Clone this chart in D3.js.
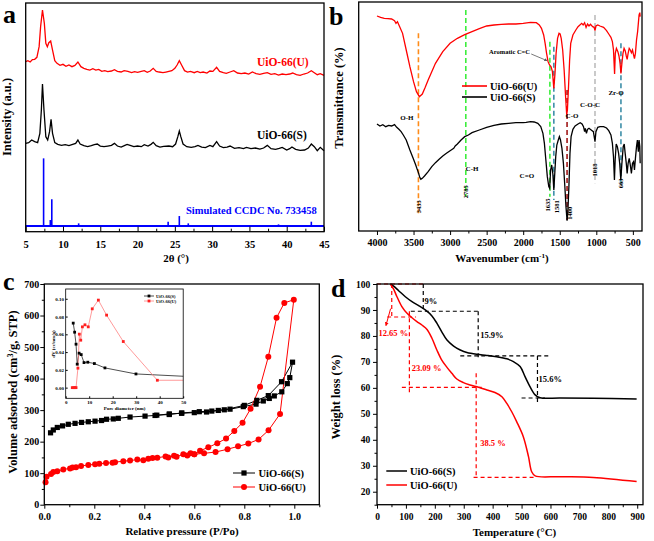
<!DOCTYPE html>
<html><head><meta charset="utf-8">
<script src="https://cdn.jsdelivr.net/npm/d3@7"></script>
<style>body{margin:0;background:#fff}svg{display:block}</style>
</head><body><svg id="fig" width="654" height="541"></svg>
<script>
// ---------------- DATA ----------------
// (a) XRD, 2theta (deg) and intensity (a.u., stacked)
const xrdThetaU = [5.0,5.3,5.6,5.9,6.2,6.5,6.8,7.0,7.25,7.5,7.7,7.9,8.1,8.35,8.6,8.9,9.2,9.6,10.0,10.4,10.8,11.2,11.6,12.0,12.4,12.8,13.2,13.6,14.0,14.4,14.8,15.2,15.6,16.0,16.5,16.9,17.3,17.8,18.2,18.7,19.2,19.6,20.0,20.5,20.9,21.3,21.7,22.1,22.5,22.9,23.4,23.8,24.2,24.6,25.0,25.3,25.6,25.9,26.3,26.7,27.1,27.6,28.0,28.4,28.8,29.3,29.7,30.1,30.6,31.0,31.5,31.9,32.4,32.9,33.4,33.9,34.4,34.9,35.4,35.9,36.4,36.9,37.4,37.9,38.4,38.9,39.4,39.9,40.4,40.8,41.3,41.8,42.3,42.8,43.3,43.7,44.1,44.5,45.0];
const xrdIntU = [515,518,514,521,522,528,560,620,670,630,570,560,572,577,550,518,510,504,507,501,505,500,504,514,500,495,492,490,494,490,492,486,488,485,487,491,486,484,488,486,482,485,483,486,488,483,487,495,486,484,482,484,486,488,495,505,518,505,488,484,486,482,486,482,484,481,487,486,498,486,482,480,484,488,481,479,481,478,484,479,477,480,482,477,479,475,478,476,478,481,476,474,478,481,488,482,476,479,474];
const xrdThetaS = [5.0,5.4,5.8,6.2,6.6,6.9,7.1,7.25,7.45,7.7,7.95,8.2,8.4,8.6,8.9,9.3,9.8,10.3,10.8,11.3,11.7,12.0,12.3,12.8,13.3,13.8,14.2,14.6,15.0,15.5,16.0,16.5,16.9,17.3,17.8,18.3,18.6,19.0,19.5,20.0,20.5,20.9,21.4,21.8,22.1,22.5,23.0,23.5,24.2,24.7,25.1,25.4,25.6,25.8,26.1,26.6,27.2,27.7,28.1,28.6,29.1,29.7,30.1,30.6,31.0,31.5,32.0,32.4,33.0,33.6,34.2,34.6,35.2,35.8,36.4,36.9,37.4,37.9,38.5,39.0,39.4,40.0,40.4,40.7,41.2,41.8,42.4,42.9,43.3,43.7,44.1,44.5,45.0];
const xrdIntS = [270,272,280,275,272,300,370,448,370,290,280,305,342,300,272,267,264,266,263,267,270,280,268,263,260,263,266,268,262,260,262,264,270,262,259,264,267,264,260,262,260,266,262,267,273,263,259,261,262,260,268,290,307,290,268,260,258,260,264,259,257,264,260,275,262,257,259,262,255,257,254,258,254,256,253,256,264,254,252,255,258,250,254,259,252,249,250,256,268,260,248,258,248];
const simBase = 22;
const simTheta = [7.4,8.3,8.5,12.1,24.1,25.6,26.8,38.9,43.3];
const simInt   = [225,40,102,30,35,52,30,27,35];
const xrdTicks = [5,10,15,20,25,30,35,40,45];

// (b) FTIR: [wavenumber, transmittance (a.u.)]
const ftirU = [[4000,652],[3950,648],[3900,645],[3850,644],[3800,643],[3760,638],[3740,630],[3720,635],[3700,625],[3650,600],[3600,550],[3550,500],[3500,455],[3460,425],[3420,410],[3380,418],[3340,438],[3300,460],[3200,510],[3100,545],[3000,570],[2900,585],[2800,596],[2700,605],[2600,614],[2500,622],[2400,625],[2300,627],[2200,628],[2100,628],[2000,630],[1900,633],[1820,632],[1780,625],[1750,615],[1720,595],[1700,570],[1680,540],[1660,515],[1640,505],[1620,500],[1600,485],[1581,435],[1565,480],[1550,540],[1530,585],[1510,600],[1495,598],[1480,585],[1460,550],[1440,490],[1420,410],[1405,355],[1395,370],[1380,440],[1365,520],[1350,570],[1320,595],[1280,610],[1250,620],[1200,630],[1180,625],[1160,632],[1140,618],[1120,628],[1100,622],[1080,627],[1050,620],[1030,618],[1018,608],[1005,622],[980,625],[950,622],[900,618],[860,608],[830,598],[800,588],[780,575],[765,550],[750,478],[740,540],[725,555],[705,545],[690,532],[675,510],[663,480],[650,510],[635,540],[620,555],[605,548],[590,532],[578,522],[565,540],[550,555],[535,550],[520,542],[505,550],[490,535],[478,524],[465,540],[450,580],[435,605],[425,630],[415,655],[405,662],[400,650]];
const ftirS = [[4000,328],[3960,322],[3920,326],[3880,320],[3840,324],[3800,322],[3760,326],[3730,318],[3700,312],[3670,305],[3640,295],[3600,280],[3550,250],[3500,222],[3470,205],[3450,192],[3430,180],[3415,168],[3400,162],[3380,165],[3350,172],[3300,185],[3250,200],[3200,212],[3150,222],[3100,232],[3050,240],[3000,248],[2950,255],[2930,262],[2900,268],[2850,280],[2800,290],[2750,295],[2700,302],[2600,310],[2500,318],[2400,324],[2300,328],[2200,330],[2100,332],[2000,332],[1960,333],[1900,335],[1850,334],[1800,330],[1760,320],[1730,300],[1710,270],[1690,220],[1670,170],[1650,140],[1638,135],[1625,190],[1610,205],[1595,180],[1581,130],[1568,180],[1555,230],[1540,265],[1520,280],[1505,290],[1490,280],[1470,255],[1450,210],[1430,140],[1415,80],[1400,38],[1390,60],[1375,140],[1360,240],[1345,290],[1320,312],[1290,322],[1250,328],[1220,332],[1195,328],[1175,320],[1160,305],[1150,315],[1135,300],[1120,312],[1100,315],[1070,310],[1040,305],[1018,275],[1005,305],[980,318],[950,320],[900,320],[860,316],[830,308],[800,295],[780,270],[765,230],[752,160],[742,220],[728,268],[712,260],[695,240],[680,210],[665,160],[650,210],[632,260],[618,268],[605,240],[590,210],[578,180],[565,210],[550,225],[535,205],[520,180],[505,210],[490,215],[478,190],[465,225],[450,260],[438,280],[425,245],[415,280],[405,260],[400,210]];
const ftirBands = [3433,2785,1635,1581,1400,1018,663];
const ftirBandLabels = ["3433","2785","1635","1581","1400","1018","663"];
const ftirTicks = [4000,3500,3000,2500,2000,1500,1000,500];

// (c) N2 isotherms: [P/Po, volume cm3/g STP]
const isoSads = [[0.025,228],[0.036,237],[0.052,245],[0.073,250],[0.096,255],[0.123,258],[0.149,261],[0.176,263],[0.203,265],[0.229,267],[0.249,271],[0.276,272],[0.296,274],[0.343,278],[0.403,281],[0.443,283],[0.5,288],[0.549,290],[0.6,292],[0.649,294],[0.696,299],[0.743,303],[0.796,311],[0.847,319],[0.876,329],[0.90,337],[0.92,345],[0.95,358],[0.972,384],[0.982,403],[0.993,452]];
const isoSdes = [[0.993,452],[0.949,390],[0.896,346],[0.85,331],[0.80,315],[0.72,301],[0.67,297],[0.62,295],[0.55,291],[0.5,286],[0.45,284]];
const isoUads = [[0.005,71],[0.009,89],[0.027,97],[0.036,104],[0.052,106],[0.076,112],[0.103,115],[0.113,118],[0.127,119],[0.147,123],[0.176,126],[0.203,128],[0.22,130],[0.247,132],[0.273,133],[0.283,135],[0.316,138],[0.343,140],[0.372,143],[0.396,141],[0.416,146],[0.433,148],[0.452,149],[0.485,153],[0.496,150],[0.519,155],[0.529,152],[0.556,160],[0.572,156],[0.585,163],[0.6,160],[0.639,163],[0.685,167],[0.733,176],[0.775,185],[0.816,194],[0.857,207],[0.897,236],[0.943,288],[0.998,650]];
const isoUdes = [[0.998,650],[0.96,640],[0.929,593],[0.896,469],[0.863,374],[0.825,304],[0.793,260],[0.76,234],[0.727,210],[0.692,195],[0.656,182],[0.623,171],[0.6,160]];
// inset pore size distribution: [pore diameter nm, dV cc/nm/g]
const psdS = [[3.2,0.0726],[3.8,0.0624],[4.4,0.0489],[4.9,0.0264],[5.7,0.0388],[6.6,0.0372],[7.8,0.0282],[9.4,0.0286],[12.2,0.0271],[16.7,0.0222],[29.9,0.0154],[50,0.0128]];
const psdU = [[2.8,0],[3.4,0],[3.9,0],[4.4,0],[5.2,0.0219],[5.8,0.0602],[6.4,0.0534],[7.1,0.0684],[8.2,0.0707],[9.6,0.0684],[11.3,0.0887],[13.9,0.0985],[17.4,0.0816],[24.5,0.0519],[39.0,0.0083],[50,0.0083]];

// (d) TGA: [temperature C, weight %]
const tgaS = [[46,100],[57.5,99.2],[75,97.4],[98,95.1],[121,93.2],[144,91.7],[167,90],[190,87.7],[207,84.9],[224,81.6],[242,78.4],[265,76.1],[288,74.6],[311,73.6],[345,72.9],[380,72.5],[414,72],[449,71.2],[472,70.1],[495,68.2],[512,64.3],[529,60.5],[547,57.3],[564,56.2],[633,56.1],[748,56],[898,55.7]];
const tgaU = [[46,100],[57.5,98],[69,95.1],[86,91.3],[104,88.7],[121,87],[138,85.5],[155,84.2],[173,82.5],[190,79.1],[207,74.6],[224,70.7],[242,67.9],[259,65.6],[276,63.4],[299,62],[322,61.1],[351,60.2],[380,59.2],[408,58.2],[432,56.6],[449,54],[466,50.8],[483,47],[506,41.2],[524,33.5],[535,27.7],[547,26.1],[633,25.8],[748,25.5],[898,23.9]];
const tgaGuidesU = [[[0,100],[165,100]],[[51,100],[51,87.2]],[[35,87.3],[135,87.3]],[[112,89.5],[112,57.5]],[[86,60.2],[362,60.2]],[[343,65.6],[343,25.5]],[[334,25.5],[552,25.5]]];
const tgaGuidesS = [[[160,100],[160,90]],[[117,89.5],[350,89.5]],[[350,89.5],[350,71.8]],[[288,72.3],[593,72.3]],[[555,72.3],[555,54]],[[500,56.1],[581,56.1]]];
const tgaLossLabelsS = [["9%",164,92.3],["15.9%",357,79.2],["15.6%",559,62.3]];
const tgaLossLabelsU = [["12.65 %",5,79.8],["23.09 %",120,66.5],["38.5 %",357,37.6]];

// ---------------- DRAW ----------------
const FAM = '"Liberation Serif","Times New Roman",Times,serif';
const svg = d3.select("#fig");
svg.append("rect").attr("width",654).attr("height",541).attr("fill","#fff");

function txt(g,x,y,s,o={}){
  const t=g.append("text").attr("x",x).attr("y",y)
    .attr("font-family",FAM).attr("font-weight","bold").attr("font-size",o.size||10)
    .attr("fill",o.fill||"#000").attr("text-anchor",o.anchor||"start");
  if(Array.isArray(s)){ s.forEach(p=>{const ts=t.append("tspan").text(p.t); if(p.sup){ts.attr("baseline-shift","super").attr("font-size",(o.size||10)*0.65);} }); }
  else t.text(s);
  if(o.rot) t.attr("transform",`rotate(${o.rot},${x},${y})`);
  return t;
}
function frame(g,xs,ys){
  const [x0,x1]=xs.range(), [y0,y1]=ys.range();
  g.append("rect").attr("x",Math.min(x0,x1)).attr("y",Math.min(y0,y1))
    .attr("width",Math.abs(x1-x0)).attr("height",Math.abs(y0-y1))
    .attr("fill","none").attr("stroke","#000").attr("stroke-width",1.3);
}
function styleAx(a,fs){
  a.select(".domain").remove();
  a.attr("font-family",FAM).attr("font-size",fs).attr("font-weight","bold");
  a.selectAll("line").attr("stroke","#000");
  a.selectAll("text").attr("fill","#000");
}
function axB(g,s,y,major,minor,size,msize,pad,fs,fmt){
  const a=g.append("g").attr("transform",`translate(0,${y})`)
    .call(d3.axisBottom(s).tickValues(major).tickSize(size).tickPadding(pad).tickFormat(fmt));
  styleAx(a,fs);
  if(minor){const m=g.append("g").attr("transform",`translate(0,${y})`)
    .call(d3.axisBottom(s).tickValues(minor).tickSize(msize).tickFormat(()=>""));styleAx(m,fs);}
}
function axL(g,s,x,major,minor,size,msize,pad,fs,fmt){
  const a=g.append("g").attr("transform",`translate(${x},0)`)
    .call(d3.axisLeft(s).tickValues(major).tickSize(size).tickPadding(pad).tickFormat(fmt));
  styleAx(a,fs);
  if(minor){const m=g.append("g").attr("transform",`translate(${x},0)`)
    .call(d3.axisLeft(s).tickValues(minor).tickSize(msize).tickFormat(()=>""));styleAx(m,fs);}
}
const fmtD=d3.format("d");

// ===== Panel a =====
{
  const g=svg.append("g");
  const x=d3.scaleLinear([5,45],[25.7,324]);
  const y=d3.scaleLinear([5,691],[231.7,3]);
  const line=d3.line().x(d=>x(d[0])).y(d=>y(d[1]));
  const U=xrdThetaU.map((t,i)=>[t,xrdIntU[i]]);
  const S=xrdThetaS.map((t,i)=>[t,xrdIntS[i]]);
  g.append("path").attr("d",line(U)).attr("fill","none").attr("stroke","#ff0000").attr("stroke-width",1.3);
  g.append("path").attr("d",line(S)).attr("fill","none").attr("stroke","#000").attr("stroke-width",1.3);
  g.append("line").attr("x1",x(5)).attr("x2",x(45)).attr("y1",y(simBase)).attr("y2",y(simBase)).attr("stroke","#0000ff").attr("stroke-width",2);
  g.selectAll(".stick").data(simTheta).join("line")
    .attr("x1",d=>x(d)).attr("x2",d=>x(d)).attr("y1",y(simBase)).attr("y2",(d,i)=>y(simInt[i]))
    .attr("stroke","#0000ff").attr("stroke-width",1.6);
  frame(g,x,y);
  axB(g,x,231.7,xrdTicks,d3.range(7.5,45,5),-5,-3,9,10.5,fmtD);
  txt(g,x(36),y(502),"UiO-66(U)",{size:11.5,fill:"#ff0000"});
  txt(g,x(36),y(283),"UiO-66(S)",{size:11.5});
  txt(g,x(26.5),y(58),"Simulated CCDC No. 733458",{size:10.5,fill:"#0000ff"});
  txt(g,176,262,"2θ (°)",{size:11,anchor:"middle"});
  txt(g,11,117,"Intensity (a.u.)",{size:12.5,anchor:"middle",rot:-90});
  txt(g,3,23,"a",{size:26});
}

// ===== Panel b =====
{
  const g=svg.append("g");
  const x=d3.scaleLinear([4250,375],[358.7,642]);
  const y=d3.scaleLinear([7,694],[231,2]);
  const line=d3.line().x(d=>x(d[0])).y(d=>y(d[1]));
  const bandTop=[600,670,575,560,430,655,570], bandBot=[60,110,110,100,40,150,140];
  const bandCol=["#ff8c1a","#3dee3d","#3dee3d","#3d8fa8","#a01818","#bdbdbd","#3d8fa8"];
  const lblT=[80,125,85,80,60,190,150], lblDx=[0,0,-2,3,3,0,0];
  ftirBands.forEach((w,i)=>{
    g.append("line").attr("x1",x(w)).attr("x2",x(w)).attr("y1",y(bandTop[i])).attr("y2",y(bandBot[i]))
      .attr("stroke",bandCol[i]).attr("stroke-width",1.6).attr("stroke-dasharray","5,3");
  });
  g.append("path").attr("d",line(ftirU)).attr("fill","none").attr("stroke","#ff0000").attr("stroke-width",1.3);
  g.append("path").attr("d",line(ftirS)).attr("fill","none").attr("stroke","#000").attr("stroke-width",1.3);
  ftirBands.forEach((w,i)=>{
    txt(g,x(w)+lblDx[i]+2.3,y(lblT[i]),ftirBandLabels[i],{size:6.5,anchor:"middle",rot:-90});
  });
  frame(g,x,y);
  axB(g,x,231,ftirTicks,d3.range(3750,400,-500),4,2.5,4,10,fmtD);
  const ann=[["O-H",3590,340],["C-H",2700,188],["C=O",1950,167],["C-O",1332,347],["C-O-C",1086,380],["Zr-O",730,416]];
  ann.forEach(a=>txt(g,x(a[1]),y(a[2]),a[0],{size:7,anchor:"middle"}));
  txt(g,x(1907),y(537),"Aromatic C=C",{size:6.5,anchor:"end"});
  g.append("defs").append("marker").attr("id","arr").attr("viewBox","0 0 6 6").attr("refX",5).attr("refY",3)
    .attr("markerWidth",4).attr("markerHeight",4).attr("orient","auto")
    .append("path").attr("d","M0,0L6,3L0,6Z").attr("fill","#555");
  g.append("line").attr("x1",x(1890)).attr("y1",y(538)).attr("x2",x(1675)).attr("y2",y(518))
    .attr("stroke","#555").attr("stroke-width",0.8).attr("marker-end","url(#arr)");
  // legend
  g.append("line").attr("x1",462).attr("x2",487).attr("y1",86).attr("y2",86).attr("stroke","#ff0000").attr("stroke-width",1.6);
  g.append("line").attr("x1",462).attr("x2",487).attr("y1",97).attr("y2",97).attr("stroke","#000").attr("stroke-width",1.6);
  txt(g,490,89.5,"UiO-66(U)",{size:10.5});
  txt(g,490,100.5,"UiO-66(S)",{size:10.5});
  txt(g,502,262,[{t:"Wavenumber (cm"},{t:"-1",sup:true},{t:")"}],{size:11,anchor:"middle"});
  txt(g,342.5,98,"Transmittance (%)",{size:12.5,anchor:"middle",rot:-90});
  txt(g,329,24.5,"b",{size:26});
}

// ===== Panel c =====
{
  const g=svg.append("g");
  const x=d3.scaleLinear([0,1.1],[44.3,319.3]);
  const y=d3.scaleLinear([0,700],[504.7,284]);
  const line=d3.line().x(d=>x(d[0])).y(d=>y(d[1]));
  [[isoSads,"#000"],[isoSdes,"#000"],[isoUads,"#ff0000"],[isoUdes,"#ff0000"]].forEach(([d,c])=>{
    g.append("path").attr("d",line(d)).attr("fill","none").attr("stroke",c).attr("stroke-width",1);
  });
  g.selectAll(".sq").data(isoSads.concat(isoSdes.slice(1))).join("rect")
    .attr("x",d=>x(d[0])-2.6).attr("y",d=>y(d[1])-2.6).attr("width",5.2).attr("height",5.2).attr("fill","#000");
  g.selectAll(".ci").data(isoUads.concat(isoUdes.slice(1))).join("circle")
    .attr("cx",d=>x(d[0])).attr("cy",d=>y(d[1])).attr("r",3).attr("fill","#ff0000");
  frame(g,x,y);
  axB(g,x,504.7,[0,0.2,0.4,0.6,0.8,1.0],[0.1,0.3,0.5,0.7,0.9,1.1],4,2.5,4.4,10,d3.format(".1f"));
  axL(g,y,44.3,d3.range(0,701,100),d3.range(50,700,100),4,2.5,1,10,fmtD);
  // legend
  g.append("line").attr("x1",233).attr("x2",255).attr("y1",473).attr("y2",473).attr("stroke","#000");
  g.append("rect").attr("x",241.4).attr("y",470.4).attr("width",5.2).attr("height",5.2).attr("fill","#000");
  g.append("line").attr("x1",233).attr("x2",255).attr("y1",487).attr("y2",487).attr("stroke","#ff0000");
  g.append("circle").attr("cx",244).attr("cy",487).attr("r",3).attr("fill","#ff0000");
  txt(g,258.5,476.5,"UiO-66(S)",{size:10.5});
  txt(g,258.5,490.5,"UiO-66(U)",{size:10.5});
  txt(g,182,535,"Relative pressure (P/Po)",{size:11,anchor:"middle"});
  txt(g,17,392,[{t:"Volume adsorbed (cm"},{t:"3",sup:true},{t:"/g, STP)"}],{size:12.5,anchor:"middle",rot:-90});
  txt(g,3,290,"c",{size:26});

  // inset
  const xi=d3.scaleLinear([0,50],[65.7,183.2]);
  const yi=d3.scaleLinear([-0.012,0.111],[398.3,289]);
  const li=d3.line().x(d=>xi(d[0])).y(d=>yi(d[1]));
  g.append("path").attr("d",li(psdS)).attr("fill","none").attr("stroke","#222").attr("stroke-width",0.8);
  g.append("path").attr("d",li(psdU)).attr("fill","none").attr("stroke","#ff8080").attr("stroke-width",0.8);
  g.selectAll(".pi").data(psdS.filter(d=>d[0]<50)).join("rect")
    .attr("x",d=>xi(d[0])-1.4).attr("y",d=>yi(d[1])-1.4).attr("width",2.8).attr("height",2.8).attr("fill","#000");
  g.selectAll(".pu").data(psdU.filter(d=>d[0]<50)).join("rect")
    .attr("x",d=>xi(d[0])-1.4).attr("y",d=>yi(d[1])-1.4).attr("width",2.8).attr("height",2.8).attr("fill","#ff2020");
  g.append("rect").attr("x",65.7).attr("y",289).attr("width",117.5).attr("height",109.3).attr("fill","none").attr("stroke","#000").attr("stroke-width",0.8);
  axB(g,xi,398.3,[0,10,20,30,40,50],null,-2,0,1.7,5,fmtD);
  axL(g,yi,65.7,[0,0.02,0.04,0.06,0.08,0.10],null,-2,0,1.7,5,d3.format(".2f"));
  g.append("line").attr("x1",144).attr("x2",154).attr("y1",296).attr("y2",296).attr("stroke","#222").attr("stroke-width",0.8);
  g.append("rect").attr("x",147.6).attr("y",294.6).attr("width",2.8).attr("height",2.8).attr("fill","#000");
  g.append("line").attr("x1",144).attr("x2",154).attr("y1",301).attr("y2",301).attr("stroke","#ff8080").attr("stroke-width",0.8);
  g.append("rect").attr("x",147.6).attr("y",299.6).attr("width",2.8).attr("height",2.8).attr("fill","#ff2020");
  txt(g,156,297.7,"UiO-66(S)",{size:4.5});
  txt(g,156,302.7,"UiO-66(U)",{size:4.5});
  txt(g,124.5,409.5,"Pore diameter (nm)",{size:5,anchor:"middle"});
  txt(g,55,344,"dV (cc/nm/g)",{size:5,anchor:"middle",rot:-90});
}

// ===== Panel d =====
{
  const g=svg.append("g");
  const x=d3.scaleLinear([0,920],[377,643]);
  const y=d3.scaleLinear([15,100],[504.7,284]);
  const line=d3.line().x(d=>x(d[0])).y(d=>y(d[1]));
  const sm=d3.line().x(d=>x(d[0])).y(d=>y(d[1])).curve(d3.curveCatmullRom);
  tgaGuidesU.forEach(s=>g.append("path").attr("d",line(s)).attr("fill","none").attr("stroke","#ff0000").attr("stroke-width",1.2).attr("stroke-dasharray","4,3"));
  tgaGuidesS.forEach(s=>g.append("path").attr("d",line(s)).attr("fill","none").attr("stroke","#000").attr("stroke-width",1.2).attr("stroke-dasharray","4,3"));
  g.append("path").attr("d",sm(tgaS)).attr("fill","none").attr("stroke","#000").attr("stroke-width",1.5);
  g.append("path").attr("d",sm(tgaU)).attr("fill","none").attr("stroke","#ff0000").attr("stroke-width",1.5);
  // arrow for 12.65 %
  g.append("defs").append("marker").attr("id","arrR").attr("viewBox","0 0 6 6").attr("refX",5).attr("refY",3)
    .attr("markerWidth",4).attr("markerHeight",4).attr("orient","auto")
    .append("path").attr("d","M0,0L6,3L0,6Z").attr("fill","#ff0000");
  g.append("line").attr("x1",x(47)).attr("y1",y(90.5)).attr("x2",x(31)).attr("y2",y(84))
    .attr("stroke","#ff0000").attr("stroke-width",1).attr("marker-end","url(#arrR)");
  tgaLossLabelsS.forEach(l=>txt(g,x(l[1]),y(l[2]),l[0],{size:8.5}));
  tgaLossLabelsU.forEach(l=>txt(g,x(l[1]),y(l[2]),l[0],{size:8.5,fill:"#ff0000"}));
  frame(g,x,y);
  axB(g,x,504.7,d3.range(0,901,100),d3.range(50,920,100),4,2.5,4.4,9.5,fmtD);
  axL(g,y,377,d3.range(20,101,10),d3.range(15,100,10),4,2.5,2.7,9.5,fmtD);
  g.append("line").attr("x1",386.3).attr("x2",407).attr("y1",471).attr("y2",471).attr("stroke","#000").attr("stroke-width",1.5);
  g.append("line").attr("x1",386.3).attr("x2",407).attr("y1",485).attr("y2",485).attr("stroke","#ff0000").attr("stroke-width",1.5);
  txt(g,410,474.5,"UiO-66(S)",{size:10.5});
  txt(g,410,488.5,"UiO-66(U)",{size:10.5});
  txt(g,514.5,536,"Temperature (°C)",{size:11,anchor:"middle"});
  txt(g,339.5,397,"Weight loss (%)",{size:12.5,anchor:"middle",rot:-90});
  txt(g,331,297,"d",{size:26});
}
</script></body></html>
